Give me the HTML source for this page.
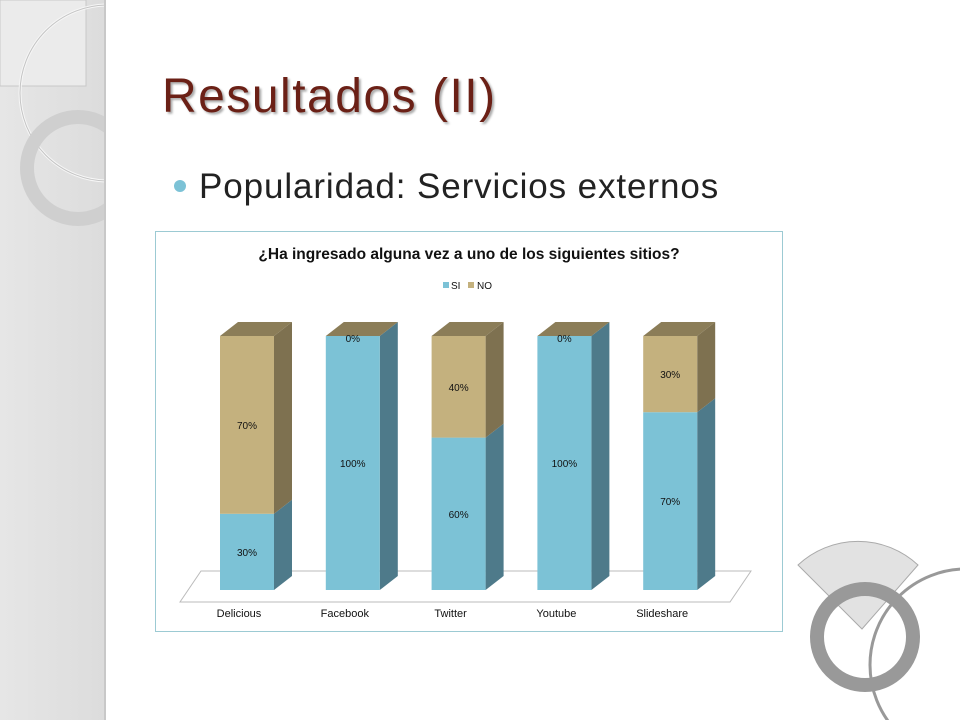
<!DOCTYPE html>
<html><head><meta charset="utf-8"><style>
html,body{margin:0;width:960px;height:720px;overflow:hidden}
body{background:#fff;position:relative;font-family:"Liberation Sans",sans-serif}
</style></head><body>
<svg width="960" height="720" style="position:absolute;left:0;top:0;display:block">
<defs><linearGradient id="sb" x1="0" x2="1"><stop offset="0" stop-color="#e6e6e6"/><stop offset="1" stop-color="#dcdcdc"/></linearGradient>
<clipPath id="sbc"><rect x="0" y="0" width="106" height="720"/></clipPath>
<clipPath id="pg"><rect x="0" y="0" width="960" height="720"/></clipPath></defs>
<g clip-path="url(#sbc)">
<rect x="0" y="0" width="106" height="720" fill="url(#sb)"/>
<rect x="0" y="0" width="86" height="86" fill="#ebebeb" stroke="#c8c8c8" stroke-width="1"/>
<circle cx="108" cy="93" r="88" fill="none" stroke="#f6f6f6" stroke-width="3"/>
<circle cx="108" cy="93" r="88" fill="none" stroke="#c4c4c4" stroke-width="1"/>
<circle cx="78" cy="168" r="51" fill="none" stroke="#cfcfcf" stroke-width="14"/>
<rect x="104" y="0" width="3" height="720" fill="#c8c8c8"/>
</g>
<g clip-path="url(#pg)">
<path d="M862 629 L798 565 A88 88 0 0 1 918 565 Z" fill="#e2e2e2" stroke="#aaa" stroke-width="1"/>
<circle cx="966" cy="665" r="96" fill="none" stroke="#999" stroke-width="3"/>
<circle cx="865" cy="637" r="48" fill="none" stroke="#999" stroke-width="14"/>
</g>
<text x="162" y="112" font-family="Liberation Sans" font-size="48" fill="#6b2016" letter-spacing="1.5" style="text-shadow:2px 2px 2px #aaa">Resultados  (II)</text>
<circle cx="180" cy="186" r="6" fill="#7cc2d6"/>
<text x="199" y="198" font-size="35" fill="#222" letter-spacing="0.9">Popularidad: Servicios externos</text>
<rect x="155.5" y="231.5" width="627" height="400" fill="#fff" stroke="#9ccad3"/>
<text x="469" y="259" text-anchor="middle" font-size="15.5" font-weight="bold" fill="#111">¿Ha ingresado alguna vez a uno de los siguientes sitios?</text>
<g>
<rect x="443" y="282" width="6" height="6" fill="#7cc2d6"/>
<text x="451" y="289" font-size="10" fill="#111">SI</text>
<rect x="468" y="282" width="6" height="6" fill="#c4b17e"/>
<text x="477" y="289" font-size="10" fill="#111">NO</text>
</g>
<polygon points="180,602 730,602 751,571 201,571" fill="#fff" stroke="#bbb"/>
<g id="bars"></g>
</svg>
<script>
const categories=["Delicious","Facebook","Twitter","Youtube","Slideshare"];
const siValues=[30,100,60,100,70];
const noValues=[70,0,40,0,30];
const yBase=590, fullH=254, x0=220, step=105.8, w=54, dx=18, dy=14;
function yS(v){return yBase-v/100*fullH;}
const g=document.getElementById('bars');
const NS='http://www.w3.org/2000/svg';
function mk(tag,attrs){const e=document.createElementNS(NS,tag);for(const k in attrs)e.setAttribute(k,attrs[k]);g.appendChild(e);return e;}
function seg(x,v0,v1,front,side,top,name){
  const yb=yS(v0), yt=yS(v1);
  const s=mk('polygon',{points:`${x+w},${yb} ${x+w+dx},${yb-dy} ${x+w+dx},${yt-dy} ${x+w},${yt}`,fill:side});
  
  
  const f=mk('rect',{x:x,y:yt,width:w,height:yb-yt,fill:front});
  
  
  if(top){const t=mk('polygon',{points:`${x},${yt} ${x+dx},${yt-dy} ${x+w+dx},${yt-dy} ${x+w},${yt}`,fill:top});
  
  }
}
function lbl(x,y,txt,name,size){const t=mk('text',{x:x,y:y,'text-anchor':'middle','font-size':size||10,fill:'#111'});t.textContent=txt;
  
  }
categories.forEach((c,i)=>{
  const x=x0+i*step, si=siValues[i], no=noValues[i];
  seg(x,0,si,'#7cc2d6','#4e7a8a',null,'bar-si-'+c.toLowerCase());
  seg(x,si,si+no,'#c4b17e','#7e7150','#8b7d58','bar-no-'+c.toLowerCase());
  lbl(x+w/2,(yS(0)+yS(si))/2+4,si+'%','value-si-'+c.toLowerCase());
  const ny=no>0?(yS(si)+yS(si+no))/2+4:yS(si+no)+6;
  lbl(x+w/2,ny,no+'%','value-no-'+c.toLowerCase());
  lbl(x+w/2-8,617,c,'x-label-'+c.toLowerCase(),11);
});
</script>
</body></html>
